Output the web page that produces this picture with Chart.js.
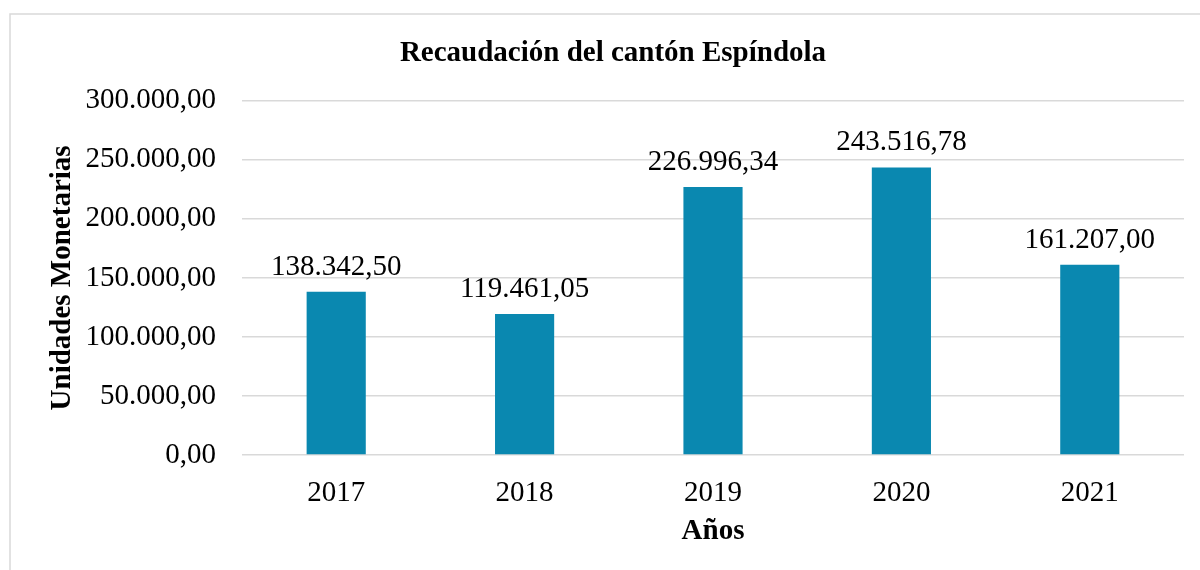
<!DOCTYPE html>
<html>
<head>
<meta charset="utf-8">
<script src="https://cdn.jsdelivr.net/npm/chart.js@4.4.1/dist/chart.umd.min.js"></script>
<style>
  html, body { margin: 0; padding: 0; background: #fff; }
  #wrap { width: 1200px; height: 570px; }
</style>
</head>
<body>
<div id="wrap"><canvas id="chart"></canvas></div>
<script>
// datos
const years = ['2017', '2018', '2019', '2020', '2021'];
const recaudacion = [138342.50, 119461.05, 226996.34, 243516.78, 161207.00];
const yTicks = [0, 50000, 100000, 150000, 200000, 250000, 300000];

const FONT = "'Liberation Serif', 'Times New Roman', serif";

// 138342.5 -> "138.342,50"
function fmt(v) {
  const parts = Math.abs(v).toFixed(2).split('.');
  const ent = parts[0].replace(/\B(?=(\d{3})+(?!\d))/g, '.');
  return (v < 0 ? '-' : '') + ent + ',' + parts[1];
}

const frame = {
  id: 'frame',
  beforeDraw(chart) {
    const c = chart.ctx;
    c.save();
    c.fillStyle = '#fff';
    c.fillRect(0, 0, chart.width, chart.height);
    c.strokeStyle = '#d9d9d9';
    c.lineWidth = 1.5;
    c.strokeRect(10, 14, chart.width + 20, chart.height + 20);
    c.restore();
  }
};

const barLabels = {
  id: 'barLabels',
  afterDatasetsDraw(chart) {
    const c = chart.ctx;
    const meta = chart.getDatasetMeta(0);
    c.save();
    c.font = '29px ' + FONT;
    c.fillStyle = '#000';
    c.textAlign = 'center';
    c.textBaseline = 'alphabetic';
    meta.data.forEach((bar, i) => {
      c.fillText(fmt(recaudacion[i]), bar.x, bar.y - 17);
    });
    c.restore();
  }
};

new Chart(document.getElementById('chart'), {
  type: 'bar',
  data: {
    labels: years,
    datasets: [{
      label: 'Recaudación',
      data: recaudacion,
      backgroundColor: '#0a88b0',
      categoryPercentage: 1,
      barPercentage: 0.314
    }]
  },
  options: {
    responsive: true,
    maintainAspectRatio: false,
    animation: false,
    layout: { padding: { top: 0, left: 42, right: 16, bottom: 0 } },
    plugins: {
      legend: { display: false },
      tooltip: { enabled: false },
      title: {
        display: true,
        text: 'Recaudación del cantón Espíndola',
        color: '#000',
        font: { family: FONT, size: 29, weight: 'bold', lineHeight: 1.2 },
        padding: { top: 36, bottom: 30 }
      }
    },
    scales: {
      x: {
        grid: { display: false },
        border: { display: false },
        ticks: { color: '#000', font: { family: FONT, size: 29 }, padding: 13 },
        title: {
          display: true,
          text: 'Años',
          color: '#000',
          font: { family: FONT, size: 29, weight: 'bold', lineHeight: 1.2 },
          padding: { top: 0, bottom: 21 }
        },
        afterFit(scale) { scale.height = 115; }
      },
      y: {
        min: 0,
        max: 300000,
        afterBuildTicks(scale) { scale.ticks = yTicks.map(v => ({ value: v })); },
        grid: { color: '#d9d9d9', lineWidth: 1.5, drawTicks: false },
        border: { display: false },
        ticks: {
          color: '#000',
          font: { family: FONT, size: 29 },
          padding: 26,
          callback: v => fmt(v)
        },
        title: {
          display: true,
          text: 'Unidades Monetarias',
          color: '#000',
          font: { family: FONT, size: 29, weight: 'bold', lineHeight: 1.2 },
          padding: { top: 3, bottom: 0 }
        },
        afterFit(scale) { scale.width = 200; }
      }
    }
  },
  plugins: [frame, barLabels]
});
</script>
</body>
</html>
